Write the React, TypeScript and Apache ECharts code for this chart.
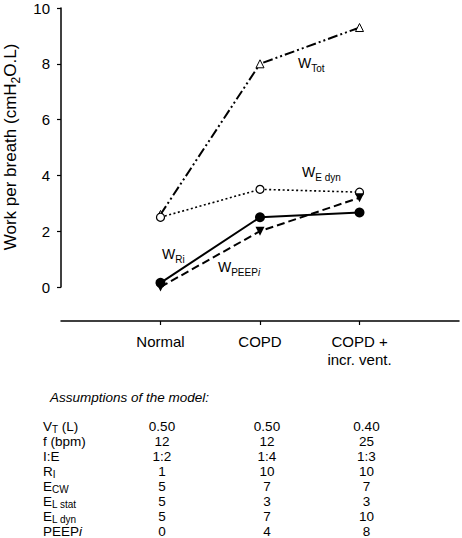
import React, { useEffect, useRef } from 'react';
import * as echarts from 'echarts';

const FONT = '"Liberation Sans", Arial, Helvetica, sans-serif';

// Chart data
const categories = ['Normal', 'COPD', 'COPD +\nincr. vent.'];
const wTot = [2.6, 8.0, 9.3];
const wEdyn = [2.5, 3.5, 3.4];
const wRi = [0.15, 2.5, 2.67];
const wPeepi = [0.0, 2.0, 3.2];
const yMin = 0;
const yMax = 10;
const yInterval = 2;

// Table data
const tableTitle = 'Assumptions of the model:';
const tableRowLabels = [
  '{n|V}{s|T}{n| (L)}',
  '{n|f (bpm)}',
  '{n|I:E}',
  '{n|R}{s|I}',
  '{n|E}{s|CW}',
  '{n|E}{s|L stat}',
  '{n|E}{s|L dyn}',
  '{n|PEEP}{i|i}',
];
const tableNormal = ['0.50', '12', '1:2', '1', '5', '5', '5', '0'];
const tableCopd = ['0.50', '12', '1:4', '10', '7', '3', '7', '4'];
const tableCopdIncr = ['0.40', '25', '1:3', '10', '7', '3', '10', '8'];

// Series label texts
const seriesLabels = [
  { text: '{w|W}{s|Tot}', x: 298, y: 63 },
  { text: '{w|W}{s|E dyn}', x: 302, y: 172 },
  { text: '{w|W}{s|Ri}', x: 162, y: 254 },
  { text: '{w|W}{s|PEEP}{si|i}', x: 218, y: 267 },
];

const axisCats = ['', ...categories, ''];
const toPts = (arr: number[]) => arr.map((v, i) => [i + 1, v]);

export default function App() {
  const ref = useRef<HTMLDivElement>(null);
  useEffect(() => {
    if (!ref.current) return;
    const chart = echarts.init(ref.current, undefined, { renderer: 'svg' });

    const labelRich = {
      w: { fontSize: 14, fontFamily: FONT, color: '#000', lineHeight: 12 },
      s: { fontSize: 10, fontFamily: FONT, color: '#000', lineHeight: 21, verticalAlign: 'bottom' },
      si: { fontSize: 10, fontFamily: FONT, color: '#000', lineHeight: 21, verticalAlign: 'bottom', fontStyle: 'italic' },
    };
    const tableRich = {
      n: { fontSize: 13.5, fontFamily: FONT, color: '#000', lineHeight: 12 },
      s: { fontSize: 10, fontFamily: FONT, color: '#000', lineHeight: 17, verticalAlign: 'bottom' },
      i: { fontSize: 13.5, fontFamily: FONT, color: '#000', lineHeight: 12, fontStyle: 'italic' },
    };

    const graphics: any[] = [];
    // y axis title
    graphics.push({
      type: 'text',
      x: 10,
      y: 147,
      rotation: Math.PI / 2,
      style: {
        text: '{n|Work per breath (cmH}{s|2}{n|O.L)}',
        align: 'center',
        verticalAlign: 'middle',
        rich: {
          n: { fontSize: 17, fontFamily: FONT, color: '#000', lineHeight: 18 },
          s: { fontSize: 12, fontFamily: FONT, color: '#000', lineHeight: 24, verticalAlign: 'bottom' },
        },
      },
    });
    seriesLabels.forEach((l) => {
      graphics.push({
        type: 'text',
        x: l.x,
        y: l.y,
        style: { text: l.text, align: 'left', verticalAlign: 'middle', rich: labelRich },
      });
    });
    graphics.push({
      type: 'text',
      x: 50,
      y: 397,
      style: {
        text: tableTitle,
        fontSize: 13.5,
        fontStyle: 'italic',
        fontFamily: FONT,
        fill: '#000',
        align: 'left',
        verticalAlign: 'middle',
      },
    });
    const rowY0 = 426;
    const rowStep = 15.0;
    const cols = [
      { x: 162, vals: tableNormal },
      { x: 267, vals: tableCopd },
      { x: 366.5, vals: tableCopdIncr },
    ];
    tableRowLabels.forEach((lab, r) => {
      const y = rowY0 + r * rowStep;
      graphics.push({
        type: 'text',
        x: 43,
        y,
        style: { text: lab, align: 'left', verticalAlign: 'middle', rich: tableRich },
      });
      cols.forEach((c) => {
        graphics.push({
          type: 'text',
          x: c.x,
          y,
          style: {
            text: c.vals[r],
            fontSize: 13.5,
            lineHeight: 12,
            fontFamily: FONT,
            fill: '#000',
            align: 'center',
            verticalAlign: 'middle',
          },
        });
      });
    });

    chart.setOption({
      animation: false,
      backgroundColor: '#fff',
      grid: { left: 61, right: 2, top: 8, bottom: 251, containLabel: false },
      xAxis: {
        type: 'category',
        data: axisCats,
        boundaryGap: false,
        offset: 34,
        axisLine: { show: true, onZero: false, lineStyle: { color: '#000', width: 1.5 } },
        axisTick: {
          show: true,
          length: 4,
          inside: false,
          interval: (i: number) => i > 0 && i < axisCats.length - 1,
          lineStyle: { color: '#000', width: 1.2 },
        },
        axisLabel: {
          interval: 0,
          margin: 11,
          fontSize: 15,
          lineHeight: 18,
          fontFamily: FONT,
          color: '#000',
        },
        splitLine: { show: false },
      },
      yAxis: {
        type: 'value',
        min: yMin,
        max: yMax,
        interval: yInterval,
        axisLine: { show: true, lineStyle: { color: '#000', width: 1.5 } },
        axisTick: { show: true, length: 4, lineStyle: { color: '#000', width: 1.2 } },
        axisLabel: { margin: 11, fontSize: 15, fontFamily: FONT, color: '#000' },
        splitLine: { show: false },
      },
      series: [
        {
          name: 'W Tot',
          type: 'line',
          data: toPts(wTot),
          symbol: 'triangle',
          symbolSize: 8,
          lineStyle: { color: '#000', width: 2, type: [10, 3, 2, 3, 2, 3] },
          itemStyle: { color: '#fff', borderColor: '#000', borderWidth: 1 },
          z: 2,
        },
        {
          name: 'W E dyn',
          type: 'line',
          data: toPts(wEdyn),
          symbol: 'circle',
          symbolSize: 8,
          lineStyle: { color: '#000', width: 1.6, type: [2, 2.5] },
          itemStyle: { color: '#fff', borderColor: '#000', borderWidth: 1.2 },
          z: 3,
        },
        {
          name: 'W Ri',
          type: 'line',
          data: toPts(wRi),
          symbol: 'circle',
          symbolSize: 10,
          lineStyle: { color: '#000', width: 2, type: 'solid' },
          itemStyle: { color: '#000', borderColor: '#000', borderWidth: 0 },
          z: 4,
        },
        {
          name: 'W PEEPi',
          type: 'line',
          data: toPts(wPeepi),
          symbol: 'triangle',
          symbolRotate: 180,
          symbolSize: 9,
          lineStyle: { color: '#000', width: 2, type: [8, 4] },
          itemStyle: { color: '#000', borderColor: '#000', borderWidth: 0 },
          z: 5,
        },
      ],
      graphic: graphics,
    });
    return () => chart.dispose();
  }, []);

  return (
    <div
      ref={ref}
      style={{ position: 'fixed', left: 0, top: 0, width: 462, height: 538, background: '#fff' }}
    />
  );
}
